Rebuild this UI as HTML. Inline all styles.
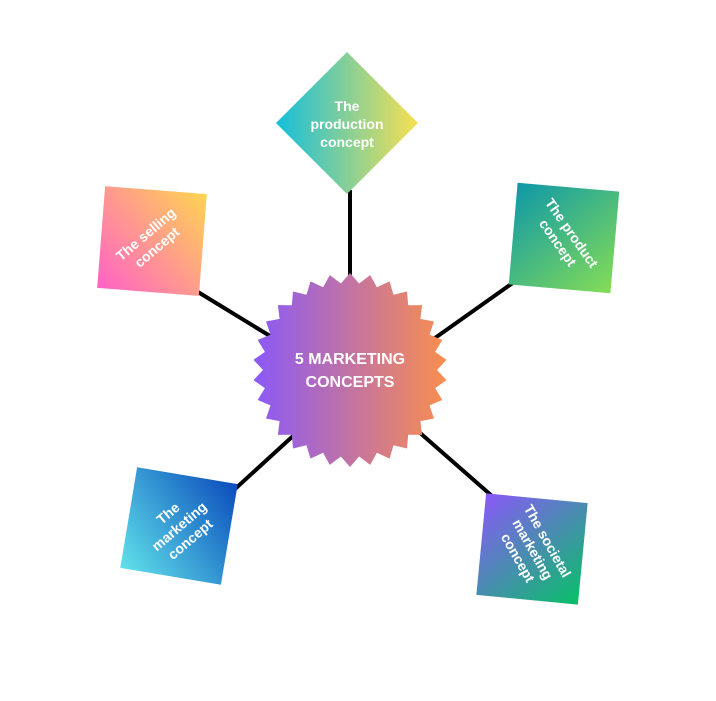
<!DOCTYPE html>
<html><head><style>
html,body{margin:0;padding:0;background:#fff;}
body{width:716px;height:701px;position:relative;overflow:hidden;font-family:"Liberation Sans",sans-serif;}
.sq{position:absolute;width:102px;height:102px;display:flex;align-items:center;justify-content:center;}
.t{color:#fff;font-weight:bold;font-size:14px;line-height:17px;text-align:center;}
</style></head><body>
<svg width="716" height="701" style="position:absolute;left:0;top:0">
<defs>
<linearGradient id="c" x1="0" y1="0" x2="1" y2="0"><stop offset="0" stop-color="#8a58f8"/><stop offset="1" stop-color="#f98e4e"/></linearGradient>
<linearGradient id="d" x1="0" y1="0" x2="1" y2="0"><stop offset="0" stop-color="#14bedc"/><stop offset="1" stop-color="#f8e052"/></linearGradient>
</defs>
<g stroke="#000" stroke-width="4">
<line x1="350" y1="190" x2="350" y2="278"/>
<line x1="198" y1="292" x2="270" y2="336"/>
<line x1="514" y1="282" x2="435" y2="338"/>
<line x1="235" y1="489" x2="293" y2="436"/>
<line x1="419" y1="432" x2="492" y2="496"/>
</g>
<polygon points="347,52 418,123 347,194 276,123" fill="url(#d)"/>
<polygon id="star" fill="url(#c)" points=""/>
<text x="347" y="111" fill="#fff" font-weight="bold" font-size="14" text-anchor="middle" font-family="Liberation Sans">The</text>
<text x="347" y="129" fill="#fff" font-weight="bold" font-size="14" text-anchor="middle" font-family="Liberation Sans">production</text>
<text x="347" y="147" fill="#fff" font-weight="bold" font-size="14" text-anchor="middle" font-family="Liberation Sans">concept</text>
<text x="350" y="364" fill="#fff" font-weight="bold" font-size="16" text-anchor="middle" font-family="Liberation Sans">5 MARKETING</text>
<text x="350" y="387" fill="#fff" font-weight="bold" font-size="16" text-anchor="middle" font-family="Liberation Sans">CONCEPTS</text>
</svg>
<script>
(function(){var p=[],n=30,cx=350,cy=370;for(var i=0;i<2*n;i++){var r=i%2?87:97;var a=Math.PI*i/n-Math.PI/2;p.push((cx+r*Math.cos(a)).toFixed(1)+","+(cy+r*Math.sin(a)).toFixed(1));}document.getElementById("star").setAttribute("points",p.join(" "));})();
</script>
<div class="sq" style="left:101px;top:190px;transform:rotate(4.5deg);background:linear-gradient(45deg,#ff62c6,#ffd452)"><div class="t" style="transform:rotate(-45deg)">The selling<br>concept</div></div>
<div class="sq" style="left:513px;top:187px;transform:rotate(5deg);background:linear-gradient(135deg,#0e98a8,#84dc56)"><div class="t" style="transform:rotate(50deg)">The product<br>concept</div></div>
<div class="sq" style="left:128px;top:475px;transform:rotate(9.5deg);background:linear-gradient(45deg,#60e2ea,#0a4cbc)"><div class="t" style="transform:rotate(-50deg)">The<br>marketing<br>concept</div></div>
<div class="sq" style="left:481px;top:498px;transform:rotate(5.5deg);background:linear-gradient(135deg,#8a58f8,#08c068)"><div class="t" style="transform:rotate(55deg)">The societal<br>marketing<br>concept</div></div>
</body></html>
